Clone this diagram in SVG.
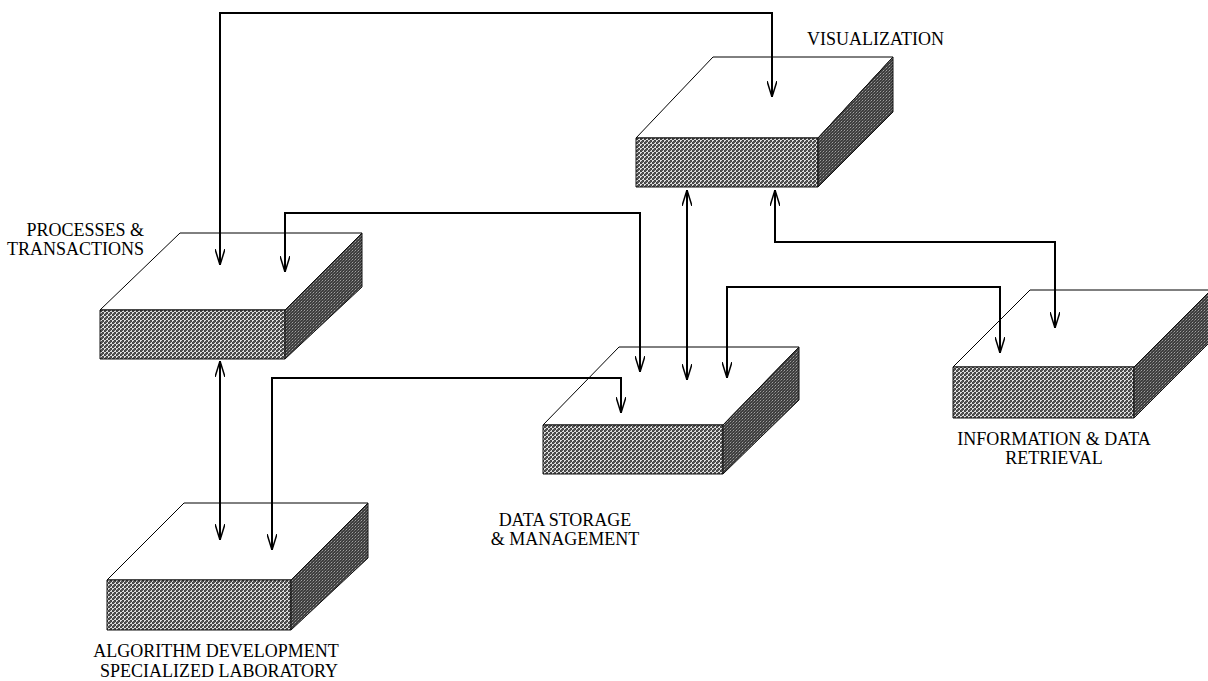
<svg xmlns="http://www.w3.org/2000/svg" width="1208" height="681" viewBox="0 0 1208 681">
<style>
.top{fill:#fff;stroke:#000;stroke-width:1}
.front{fill:url(#hatch);stroke:#111;stroke-width:1}
.side{fill:url(#noise);stroke:#111;stroke-width:1}
.conn{fill:none;stroke:#000;stroke-width:2;marker-start:url(#arr);marker-end:url(#arr)}
.lbl{font-family:"Liberation Serif","Times New Roman",serif;font-size:18px;fill:#000}
</style>
<defs>
<pattern id="hatch" patternUnits="userSpaceOnUse" width="4" height="4">
<rect width="4" height="4" fill="#444"/>
<rect x="0" y="0" width="2" height="2" fill="#dcdcdc"/>
<rect x="2" y="2" width="2" height="2" fill="#dcdcdc"/>
<rect x="1" y="1" width="2" height="2" fill="#555"/>
</pattern>
<pattern id="noise" patternUnits="userSpaceOnUse" width="3" height="3">
<rect width="3" height="3" fill="#3e3e3e"/>
<rect x="1" y="1" width="1" height="1" fill="#a0a0a0"/>
<rect x="0" y="2" width="1" height="1" fill="#707070"/>
<rect x="2" y="0" width="1" height="1" fill="#606060"/>
</pattern>
<marker id="arr" viewBox="0 0 16 10" refX="16" refY="5" markerWidth="16" markerHeight="10" markerUnits="userSpaceOnUse" orient="auto-start-reverse">
<path d="M0,0 L16,5 L0,10" fill="none" stroke="#000" stroke-width="1.5"/>
</marker>
</defs>
<rect width="1208" height="681" fill="#fff"/>

<g id="visualization">
<polygon class="top" points="713,57 893,57 818,138 636,138"/>
<polygon class="front" points="636,138 818,138 818,187 636,187"/>
<polygon class="side" points="818,138 893,57 893,112 818,187"/>
<text class="lbl" x="807" y="45">VISUALIZATION</text>
</g>

<g id="processes">
<polygon class="top" points="180,233 362,233 285,310 100,310"/>
<polygon class="front" points="100,310 285,310 285,359 100,359"/>
<polygon class="side" points="285,310 362,233 362,287 285,359"/>
<text class="lbl" x="144" y="236" text-anchor="end">PROCESSES &amp;</text>
<text class="lbl" x="144" y="255" text-anchor="end">TRANSACTIONS</text>
</g>

<g id="algorithm">
<polygon class="top" points="184,503 368,503 291,580 107,580"/>
<polygon class="front" points="107,580 291,580 291,630 107,630"/>
<polygon class="side" points="291,580 368,503 368,558 291,630"/>
<text class="lbl" x="216" y="657" text-anchor="middle">ALGORITHM DEVELOPMENT</text>
<text class="lbl" x="219" y="677" text-anchor="middle">SPECIALIZED LABORATORY</text>
</g>

<g id="datastorage">
<polygon class="top" points="619,347 799,347 723,425 543,425"/>
<polygon class="front" points="543,425 723,425 723,474 543,474"/>
<polygon class="side" points="723,425 799,347 799,400 723,474"/>
<text class="lbl" x="565" y="526" text-anchor="middle">DATA STORAGE</text>
<text class="lbl" x="565" y="545" text-anchor="middle">&amp; MANAGEMENT</text>
</g>

<g id="information">
<polygon class="top" points="1030,290 1211,290 1134,367 953,367"/>
<polygon class="front" points="953,367 1134,367 1134,418 953,418"/>
<polygon class="side" points="1134,367 1211,290 1211,341 1134,418"/>
<text class="lbl" x="1054" y="445" text-anchor="middle">INFORMATION &amp; DATA</text>
<text class="lbl" x="1054" y="464" text-anchor="middle">RETRIEVAL</text>
</g>

<g id="connectors">
<path class="conn" d="M220,265 V13 H772 V97"/>
<path class="conn" d="M285,272 V213 H640 V372"/>
<path class="conn" d="M687,190 V380"/>
<path class="conn" d="M775,190 V242 H1055 V328"/>
<path class="conn" d="M727,378 V287 H1000 V353"/>
<path class="conn" d="M220,361 V540"/>
<path class="conn" d="M621,413 V378 H272 V550"/>
</g>
</svg>
